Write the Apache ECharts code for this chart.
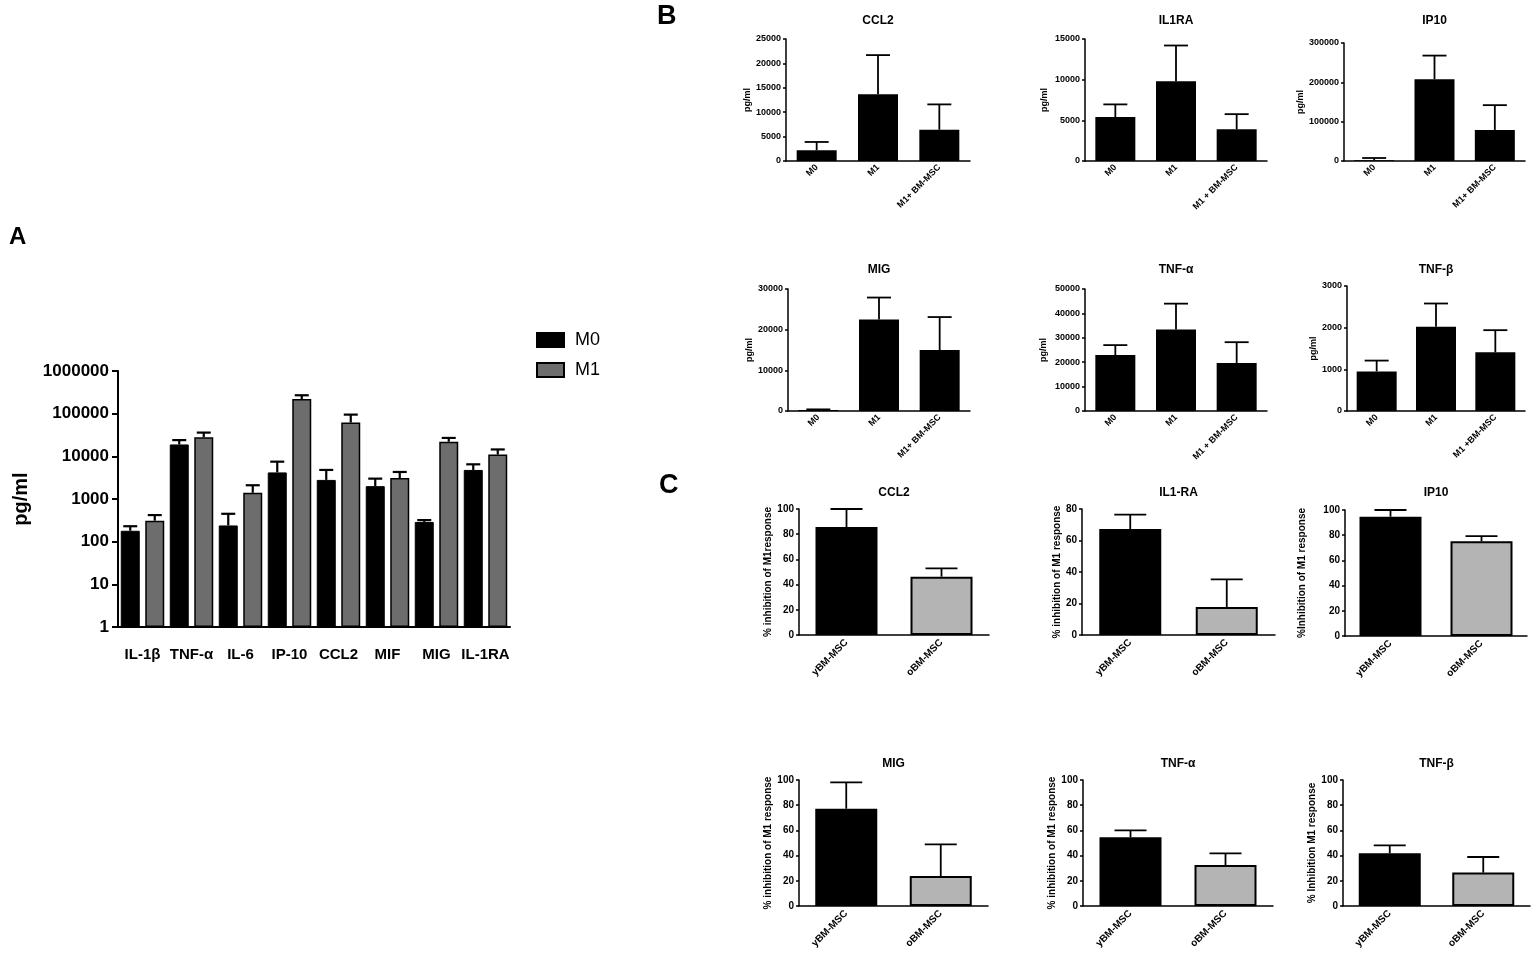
<!DOCTYPE html>
<html>
<head>
<meta charset="utf-8">
<title>Cytokine secretion</title>
<script src="https://cdn.jsdelivr.net/npm/echarts@6/dist/echarts.min.js"></script>
<style>
html, body { margin: 0; padding: 0; background: #fff; }
#main { width: 1535px; height: 953px; }
</style>
</head>
<body>
<div id="main"></div>
<script>
// ---- panel A : M0 vs M1, log scale ----
var aCategories = ['IL-1β', 'TNF-α', 'IL-6', 'IP-10', 'CCL2', 'MIF', 'MIG', 'IL-1RA'];
var aM0 = [180, 19000, 240, 4200, 2800, 2000, 290, 4800];
var aM0Err = [50, 5000, 210, 3300, 2000, 1000, 30, 1700];
var aM1 = [310, 28000, 1400, 220000, 62000, 3100, 22000, 11000];
var aM1Err = [110, 8000, 700, 50000, 33000, 1200, 5000, 3500];

// ---- panel B : pg/ml per cytokine ----
var bTitles = ['CCL2', 'IL1RA', 'IP10', 'MIG', 'TNF-α', 'TNF-β'];
var bLabels = [
    ['M0', 'M1', 'M1+ BM-MSC'],
    ['M0', 'M1', 'M1 + BM-MSC'],
    ['M0', 'M1', 'M1+ BM-MSC'],
    ['M0', 'M1', 'M1+ BM-MSC'],
    ['M0', 'M1', 'M1 + BM-MSC'],
    ['M0', 'M1', 'M1 +BM-MSC']
];
var bMeans = [
    [2200, 13700, 6400],
    [5400, 9800, 3900],
    [2000, 208000, 79000],
    [250, 22500, 15000],
    [22900, 33400, 19700],
    [950, 2020, 1410]
];
var bErrs = [
    [1700, 8000, 5200],
    [1560, 4400, 1860],
    [5600, 60000, 63000],
    [150, 5400, 8100],
    [4100, 10600, 8500],
    [260, 560, 530]
];
var bMax = [25000, 15000, 300000, 30000, 50000, 3000];
var bStep = [5000, 5000, 100000, 10000, 10000, 1000];

// ---- panel C : % inhibition ----
var cTitles = ['CCL2', 'IL1-RA', 'IP10', 'MIG', 'TNF-α', 'TNF-β'];
var cLabels = ['yBM-MSC', 'oBM-MSC'];
var cYNames = ['% inhibition of M1response', '% inhibition of M1 response', '%Inhibition of M1 response',
    '% inhibition of M1 response', '% inhibition of M1 response', '% Inhibition M1 response'];
var cYoung = [85.7, 67.3, 94.7, 77.2, 54.5, 41.8];
var cYoungErr = [14.3, 9.1, 5.3, 20.9, 5.5, 6.3];
var cOld = [46.3, 17.8, 75.2, 23.8, 32.5, 26.5];
var cOldErr = [6.6, 17.5, 4.0, 25.1, 9.3, 12.4];
var cMax = [100, 80, 100, 100, 100, 100];

// layout (left, top, width, height) of the small plots
var bGrid = [[786, 39, 184, 122], [1085, 39, 182, 122], [1344, 43, 181, 118],
             [788, 289, 182, 122], [1085, 289, 182, 122], [1347, 286, 178, 125]];
var bNameGap = [34, 36, 37, 33, 37, 22];
var bTitleY = [21, 21, 21, 270, 270, 270];
var cGrid = [[799, 509, 190, 126], [1082, 509, 193, 126], [1345, 510, 182, 126],
             [799, 780, 189, 126], [1083, 780, 190, 126], [1343, 780, 187, 126]];
var cNameGap = [23, 19, 38, 26, 26, 26];
var cTitleY = [493, 493, 493, 764, 764, 764];

var FONT = 'Liberation Sans, Arial, Helvetica, sans-serif';

function noComma(v) { return String(Math.round(v)); }

// error bar drawn upward only, with a cap
function errorBars(xi, yi, points, half, lw) {
    return {
        type: 'custom',
        xAxisIndex: xi,
        yAxisIndex: yi,
        z: 5,
        silent: true,
        data: points,
        renderItem: function (params, api) {
            var base = api.coord([api.value(0), api.value(1)]);
            var top = api.coord([api.value(0), api.value(2)]);
            var st = { stroke: '#000', lineWidth: lw };
            return {
                type: 'group',
                children: [
                    { type: 'line', shape: { x1: base[0], y1: base[1], x2: top[0], y2: top[1] }, style: st },
                    { type: 'line', shape: { x1: top[0] - half, y1: top[1], x2: top[0] + half, y2: top[1] }, style: st }
                ]
            };
        }
    };
}

var grids = [], xAxes = [], yAxes = [], series = [], texts = [];

// ---------- A ----------
var aSlots = [], aM0Slots = [], aM1Slots = [], aErrPts = [];
for (var i = 0; i < aCategories.length; i++) {
    aSlots.push(aCategories[i] + ' M0', aCategories[i] + ' M1');
    aM0Slots.push(aM0[i], '-');
    aM1Slots.push('-', aM1[i]);
    aErrPts.push([2 * i, aM0[i], aM0[i] + aM0Err[i]]);
    aErrPts.push([2 * i + 1, aM1[i], aM1[i] + aM1Err[i]]);
}
grids.push({ left: 118, top: 371, width: 392, height: 256 });
xAxes.push({
    type: 'category', gridIndex: 0, data: aSlots,
    axisLine: { lineStyle: { color: '#000', width: 2 } },
    axisTick: { alignWithLabel: true, interval: 0, length: 7, lineStyle: { color: '#000', width: 2 } },
    axisLabel: { show: false }
});
xAxes.push({
    type: 'category', gridIndex: 0, data: aCategories, position: 'bottom',
    axisLine: { show: false }, axisTick: { show: false },
    axisLabel: { interval: 0, margin: 20, fontSize: 15, fontWeight: 'bold', color: '#000', fontFamily: FONT }
});
yAxes.push({
    type: 'log', gridIndex: 0, logBase: 10, min: 1, max: 1000000, splitNumber: 6,
    axisLine: { show: true, lineStyle: { color: '#000', width: 2 } },
    axisTick: { show: true, length: 6, lineStyle: { color: '#000', width: 2 } },
    splitLine: { show: false },
    axisLabel: { formatter: noComma, margin: 9, fontSize: 17, fontWeight: 'bold', color: '#000', fontFamily: FONT },
    name: 'pg/ml', nameLocation: 'middle', nameGap: 87,
    nameTextStyle: { fontSize: 20, fontWeight: 'bold', color: '#000', fontFamily: FONT }
});
series.push({
    name: 'M0', type: 'bar', xAxisIndex: 0, yAxisIndex: 0, data: aM0Slots,
    barWidth: 19, barGap: '-100%',
    itemStyle: { color: '#000', borderColor: '#000', borderWidth: 1 }
});
series.push({
    name: 'M1', type: 'bar', xAxisIndex: 0, yAxisIndex: 0, data: aM1Slots,
    barWidth: 19, barGap: '-100%',
    itemStyle: { color: '#6d6d6d', borderColor: '#000', borderWidth: 1.5 }
});
series.push(errorBars(0, 0, aErrPts, 7, 2.2));
texts.push({ type: 'text', left: 9, top: 225, style: { text: 'A', font: 'bold 24px ' + FONT, fill: '#000' } });

// ---------- B ----------
for (var b = 0; b < bTitles.length; b++) {
    var gi = grids.length, xi = xAxes.length, yi = yAxes.length;
    var g = bGrid[b];
    grids.push({ left: g[0], top: g[1], width: g[2], height: g[3] });
    xAxes.push({
        type: 'category', gridIndex: gi, data: bLabels[b],
        axisLine: { lineStyle: { color: '#000', width: 1.5 } },
        axisTick: { alignWithLabel: true, length: 3, lineStyle: { color: '#000', width: 1.5 } },
        axisLabel: { rotate: 45, interval: 0, margin: 5, fontSize: 9, fontWeight: 'bold', color: '#000', fontFamily: FONT }
    });
    yAxes.push({
        type: 'value', gridIndex: gi, min: 0, max: bMax[b], interval: bStep[b],
        axisLine: { show: true, lineStyle: { color: '#000', width: 1.5 } },
        axisTick: { show: true, length: 3, lineStyle: { color: '#000', width: 1.5 } },
        splitLine: { show: false },
        axisLabel: { formatter: noComma, margin: 5, fontSize: 9, fontWeight: 'bold', color: '#000', fontFamily: FONT },
        name: 'pg/ml', nameLocation: 'middle', nameGap: bNameGap[b],
        nameTextStyle: { fontSize: 9, fontWeight: 'bold', color: '#000', fontFamily: FONT }
    });
    series.push({
        type: 'bar', xAxisIndex: xi, yAxisIndex: yi, data: bMeans[b], barWidth: 40,
        itemStyle: { color: '#000' }
    });
    var pts = [];
    for (var k = 0; k < bMeans[b].length; k++) pts.push([k, bMeans[b][k], bMeans[b][k] + bErrs[b][k]]);
    series.push(errorBars(xi, yi, pts, 12, 1.8));
    texts.push({ type: 'text', x: g[0] + g[2] / 2, y: bTitleY[b],
        style: { text: bTitles[b], font: 'bold 12px ' + FONT, fill: '#000', align: 'center', verticalAlign: 'middle' } });
}
texts.push({ type: 'text', left: 657, top: 3, style: { text: 'B', font: 'bold 27px ' + FONT, fill: '#000' } });

// ---------- C ----------
for (var c = 0; c < cTitles.length; c++) {
    var gi2 = grids.length, xi2 = xAxes.length, yi2 = yAxes.length;
    var g2 = cGrid[c];
    grids.push({ left: g2[0], top: g2[1], width: g2[2], height: g2[3] });
    xAxes.push({
        type: 'category', gridIndex: gi2, data: cLabels,
        axisLine: { lineStyle: { color: '#000', width: 1.5 } },
        axisTick: { alignWithLabel: true, length: 3, lineStyle: { color: '#000', width: 1.5 } },
        axisLabel: { rotate: 45, interval: 0, margin: 6, fontSize: 10, fontWeight: 'bold', color: '#000', fontFamily: FONT }
    });
    yAxes.push({
        type: 'value', gridIndex: gi2, min: 0, max: cMax[c], interval: 20,
        axisLine: { show: true, lineStyle: { color: '#000', width: 1.5 } },
        axisTick: { show: true, length: 3, lineStyle: { color: '#000', width: 1.5 } },
        splitLine: { show: false },
        axisLabel: { formatter: noComma, margin: 5, fontSize: 10, fontWeight: 'bold', color: '#000', fontFamily: FONT },
        name: cYNames[c], nameLocation: 'middle', nameGap: cNameGap[c],
        nameTextStyle: { fontSize: 10, fontWeight: 'bold', color: '#000', fontFamily: FONT }
    });
    series.push({
        type: 'bar', xAxisIndex: xi2, yAxisIndex: yi2, barWidth: 62,
        data: [
            { value: cYoung[c], itemStyle: { color: '#000' } },
            { value: cOld[c], itemStyle: { color: '#b4b4b4' } }
        ],
        itemStyle: { borderColor: '#000', borderWidth: 2 }
    });
    series.push(errorBars(xi2, yi2, [
        [0, cYoung[c], cYoung[c] + cYoungErr[c]],
        [1, cOld[c], cOld[c] + cOldErr[c]]
    ], 16, 1.8));
    texts.push({ type: 'text', x: g2[0] + g2[2] / 2, y: cTitleY[c],
        style: { text: cTitles[c], font: 'bold 12px ' + FONT, fill: '#000', align: 'center', verticalAlign: 'middle' } });
}
texts.push({ type: 'text', left: 659, top: 472, style: { text: 'C', font: 'bold 27px ' + FONT, fill: '#000' } });

var myChart = echarts.init(document.getElementById('main'));
var option = {
    animation: false,
    backgroundColor: '#fff',
    textStyle: { fontFamily: FONT },
    legend: {
        data: ['M0', 'M1'], orient: 'vertical', left: 536, top: 331, padding: 0,
        itemWidth: 27, itemHeight: 14, itemGap: 12, icon: 'rect', selectedMode: false,
        textStyle: { fontSize: 18, color: '#000', fontFamily: FONT, padding: [0, 0, 0, 6] }
    },
    grid: grids,
    xAxis: xAxes,
    yAxis: yAxes,
    series: series,
    graphic: texts
};
myChart.setOption(option);
</script>
</body>
</html>
